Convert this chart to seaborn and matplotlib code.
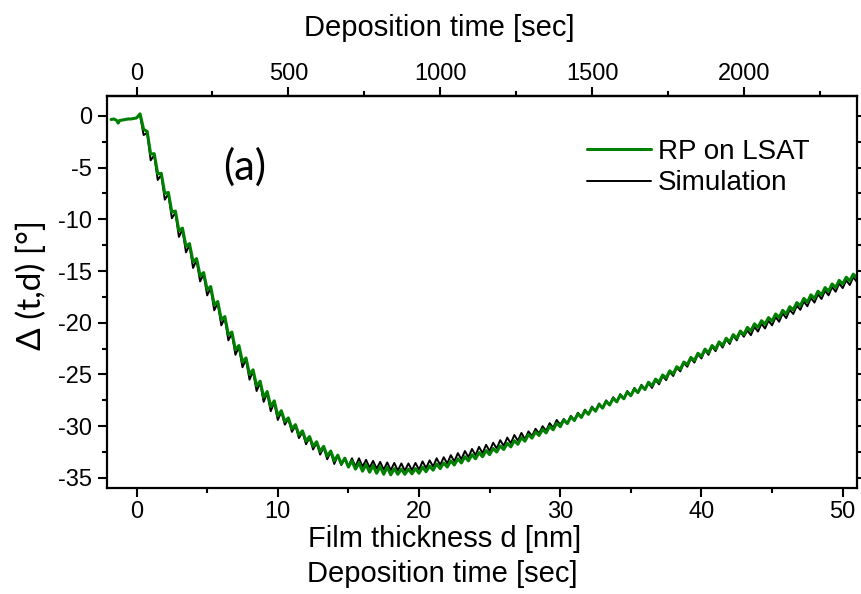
import numpy as np
import pandas as pd
import seaborn as sns
import matplotlib.pyplot as plt
from matplotlib.ticker import MultipleLocator, FixedLocator

# --- data ---
# measured RP on LSAT: flat pre-deposition part, then 0.25 nm sampling
d_meas = [-1.8, -1.6, -1.4, -1.3, -1.2, -1.0, -0.8, -0.6, -0.4, -0.2, 0.0,
          0.25, 0.5, 0.75, 1.0, 1.25, 1.5, 1.75, 2.0, 2.25, 2.5, 2.75, 3.0, 3.25, 3.5, 3.75, 4.0,
          4.25, 4.5, 4.75, 5.0, 5.25, 5.5, 5.75, 6.0, 6.25, 6.5, 6.75, 7.0, 7.25, 7.5, 7.75, 8.0,
          8.25, 8.5, 8.75, 9.0, 9.25, 9.5, 9.75, 10.0, 10.25, 10.5, 10.75, 11.0, 11.25, 11.5, 11.75, 12.0,
          12.25, 12.5, 12.75, 13.0, 13.25, 13.5, 13.75, 14.0, 14.25, 14.5, 14.75, 15.0, 15.25, 15.5, 15.75, 16.0,
          16.25, 16.5, 16.75, 17.0, 17.25, 17.5, 17.75, 18.0, 18.25, 18.5, 18.75, 19.0, 19.25, 19.5, 19.75, 20.0,
          20.25, 20.5, 20.75, 21.0, 21.25, 21.5, 21.75, 22.0, 22.25, 22.5, 22.75, 23.0, 23.25, 23.5, 23.75, 24.0,
          24.25, 24.5, 24.75, 25.0, 25.25, 25.5, 25.75, 26.0, 26.25, 26.5, 26.75, 27.0, 27.25, 27.5, 27.75, 28.0,
          28.25, 28.5, 28.75, 29.0, 29.25, 29.5, 29.75, 30.0, 30.25, 30.5, 30.75, 31.0, 31.25, 31.5, 31.75, 32.0,
          32.25, 32.5, 32.75, 33.0, 33.25, 33.5, 33.75, 34.0, 34.25, 34.5, 34.75, 35.0, 35.25, 35.5, 35.75, 36.0,
          36.25, 36.5, 36.75, 37.0, 37.25, 37.5, 37.75, 38.0, 38.25, 38.5, 38.75, 39.0, 39.25, 39.5, 39.75, 40.0,
          40.25, 40.5, 40.75, 41.0, 41.25, 41.5, 41.75, 42.0, 42.25, 42.5, 42.75, 43.0, 43.25, 43.5, 43.75, 44.0,
          44.25, 44.5, 44.75, 45.0, 45.25, 45.5, 45.75, 46.0, 46.25, 46.5, 46.75, 47.0, 47.25, 47.5, 47.75, 48.0,
          48.25, 48.5, 48.75, 49.0, 49.25, 49.5, 49.75, 50.0, 50.25, 50.5, 50.75, 51.0]
delta_meas = [-0.35, -0.3, -0.45, -0.7, -0.45, -0.4, -0.35, -0.3, -0.3, -0.25, -0.2,
              0.2, -1.3, -1.5, -3.7, -3.65, -5.6, -5.55, -7.5, -7.4, -9.3, -9.2, -11.1, -10.85, -12.6, -12.35, -14.1,
              -13.8, -15.45, -15.15, -16.8, -16.5, -18.25, -17.95, -19.7, -19.4, -21.15, -20.9, -22.6, -22.2, -23.8, -23.4, -25.0,
              -24.55, -26.1, -25.65, -27.2, -26.65, -28.1, -27.55, -29.0, -28.5, -29.55, -29.2, -30.25, -29.85, -30.85, -30.45, -31.45,
              -31.0, -31.95, -31.5, -32.45, -31.95, -32.9, -32.4, -33.35, -32.8, -33.65, -33.1, -33.95, -33.35, -34.15, -33.55, -34.35,
              -33.7, -34.45, -33.8, -34.55, -33.9, -34.65, -33.95, -34.7, -34.1, -34.65, -34.15, -34.65, -34.15, -34.6, -34.1, -34.55,
              -33.95, -34.4, -33.85, -34.25, -33.65, -34.1, -33.55, -33.95, -33.35, -33.75, -33.15, -33.55, -32.95, -33.35, -32.75, -33.15,
              -32.55, -32.95, -32.35, -32.75, -32.15, -32.5, -31.9, -32.25, -31.65, -32.0, -31.4, -31.75, -31.1, -31.45, -30.8, -31.15,
              -30.55, -30.9, -30.3, -30.65, -30.0, -30.35, -29.7, -30.05, -29.4, -29.75, -29.1, -29.45, -28.8, -29.15, -28.5, -28.85,
              -28.2, -28.55, -27.9, -28.25, -27.6, -27.95, -27.3, -27.65, -27.0, -27.35, -26.7, -27.05, -26.4, -26.75, -26.1, -26.45,
              -25.75, -26.1, -25.45, -25.75, -25.05, -25.35, -24.65, -24.95, -24.25, -24.5, -23.8, -24.05, -23.35, -23.65, -22.95, -23.25,
              -22.55, -22.9, -22.2, -22.55, -21.85, -22.2, -21.5, -21.85, -21.15, -21.5, -20.8, -21.15, -20.45, -20.8, -20.1, -20.45,
              -19.8, -20.15, -19.5, -19.85, -19.15, -19.5, -18.8, -19.15, -18.45, -18.75, -18.05, -18.35, -17.65, -18.0, -17.3, -17.65,
              -16.95, -17.3, -16.6, -16.95, -16.25, -16.6, -15.9, -16.25, -15.6, -15.95, -15.3, -15.65]

# simulation: starts at the deposition onset, same 0.25 nm sampling
d_sim = d_meas[11:]
delta_sim = [0.05, -1.85, -1.65, -4.3, -3.8, -6.2, -5.7, -8.1, -7.55, -9.9, -9.35, -11.7, -11.0, -13.2, -12.5, -14.7,
             -13.95, -16.0, -15.3, -17.35, -16.65, -18.8, -18.1, -20.25, -19.55, -21.7, -21.05, -23.1, -22.35, -24.3, -23.55, -25.5,
             -24.7, -26.6, -25.8, -27.65, -26.8, -28.55, -27.7, -29.4, -28.6, -29.85, -29.3, -30.55, -29.95, -31.15, -30.55, -31.75,
             -31.1, -32.25, -31.6, -32.75, -32.05, -33.2, -32.5, -33.65, -32.85, -33.75, -33.05, -33.9, -33.1, -33.9, -33.1, -33.9,
             -33.25, -34.0, -33.35, -34.1, -33.45, -34.2, -33.5, -34.25, -33.55, -34.3, -33.6, -34.3, -33.6, -34.25, -33.55, -34.2,
             -33.4, -34.05, -33.3, -33.9, -33.1, -33.75, -33.0, -33.6, -32.8, -33.4, -32.6, -33.2, -32.4, -33.0, -32.2, -32.8,
             -32.0, -32.6, -31.8, -32.4, -31.6, -32.15, -31.35, -31.9, -31.1, -31.65, -30.85, -31.4, -30.65, -31.25, -30.5, -30.95,
             -30.25, -30.7, -30.0, -30.45, -29.7, -30.15, -29.4, -29.85, -29.3, -29.75, -29.0, -29.45, -28.7, -29.15, -28.4, -28.85,
             -28.1, -28.55, -27.8, -28.25, -27.5, -27.95, -27.2, -27.65, -26.9, -27.35, -26.6, -27.05, -26.3, -26.75, -26.0, -26.45,
             -25.85, -26.3, -25.55, -25.95, -25.15, -25.55, -24.75, -25.15, -24.35, -24.7, -23.9, -24.25, -23.45, -23.85, -23.05, -23.45,
             -22.65, -23.1, -22.3, -22.75, -21.95, -22.4, -21.6, -22.05, -21.25, -21.7, -20.9, -21.35, -20.75, -21.2, -20.4, -20.85,
             -20.1, -20.55, -19.8, -20.25, -19.45, -19.9, -19.1, -19.55, -18.75, -19.15, -18.35, -18.75, -17.95, -18.4, -17.6, -18.05,
             -17.25, -17.7, -16.9, -17.35, -16.55, -17.0, -16.2, -16.65, -15.9, -16.35, -15.6, -16.05]

sec_per_nm = 46.5  # deposition rate
top_ticks = [0, 500, 1000, 1500, 2000]
top_minor = [250, 750, 1250, 1750, 2250]

meas = pd.DataFrame({"d": d_meas, "delta": delta_meas})
sim = pd.DataFrame({"d": d_sim, "delta": delta_sim})

sns.set_style("ticks")
narrow = ["Liberation Sans Narrow", "Liberation Sans", "DejaVu Sans"]
plt.rcParams["font.family"] = narrow
plt.rcParams["axes.linewidth"] = 1.6
plt.rcParams["axes.unicode_minus"] = False
for k in ["text.color", "axes.labelcolor", "xtick.color", "ytick.color", "axes.edgecolor"]:
    plt.rcParams[k] = "black"

fig = plt.figure(figsize=(8.62, 5.94), dpi=100)
ax = fig.add_axes([0.124, 0.178, 0.870, 0.660])

sns.lineplot(data=sim, x="d", y="delta", color="black", lw=1.4, estimator=None, sort=False, ax=ax)
sns.lineplot(data=meas, x="d", y="delta", color="#008000", lw=2.2, estimator=None, sort=False, ax=ax)

ax.set_xlim(-2.1, 51.0)
ax.set_ylim(-36.0, 1.9)
ax.xaxis.set_major_locator(MultipleLocator(10))
ax.xaxis.set_minor_locator(MultipleLocator(5))
ax.yaxis.set_major_locator(MultipleLocator(5))
ax.yaxis.set_minor_locator(MultipleLocator(2.5))
ax.tick_params(which="major", length=6.5, width=1.5, labelsize=17, direction="out", right=True)
ax.tick_params(which="minor", length=3.6, width=1.5, direction="out", right=True)
ax.tick_params(axis="x", pad=2.5)
ax.tick_params(axis="y", pad=4)
ax.set_xlabel("")
ax.set_ylabel("")
for s in ax.spines.values():
    s.set_visible(True)
    s.set_color("black")

top = ax.secondary_xaxis("top", functions=(lambda d: d * sec_per_nm, lambda t: t / sec_per_nm))
top.xaxis.set_major_locator(FixedLocator(top_ticks))
top.xaxis.set_minor_locator(FixedLocator(top_minor))
top.tick_params(which="major", length=6.5, width=1.5, labelsize=17, direction="out", pad=1.5)
top.tick_params(which="minor", length=3.6, width=1.5, direction="out")

# legend
handles = ax.get_lines()
ax.legend([handles[1], handles[0]], ["RP on LSAT", "Simulation"], frameon=False, fontsize=20,
          loc="upper right", bbox_to_anchor=(0.959, 0.934), handlelength=2.3, handletextpad=0.25,
          labelspacing=0.2, borderaxespad=0.2)

# labels
fig.text(445 / 862, 1 - 539 / 594, "Film thickness d [nm]", ha="center", va="center", fontsize=21)
fig.text(442 / 862, 1 - 574 / 594, "Deposition time [sec]", ha="center", va="center", fontsize=21)
fig.text(439 / 862, 1 - 28 / 594, "Deposition time [sec]", ha="center", va="center", fontsize=21)
fig.text(32 / 862, 1 - 285 / 594, "\u0394 (t,d) [\u00b0]", rotation=90, ha="center", va="center",
         fontsize=24, family=["Lato", "DejaVu Sans"])
fig.text(245 / 862, 1 - 167 / 594, "(a)", ha="center", va="center", fontsize=30,
         family=["Lato", "DejaVu Sans"])

fig.savefig("out.png", dpi=100)
